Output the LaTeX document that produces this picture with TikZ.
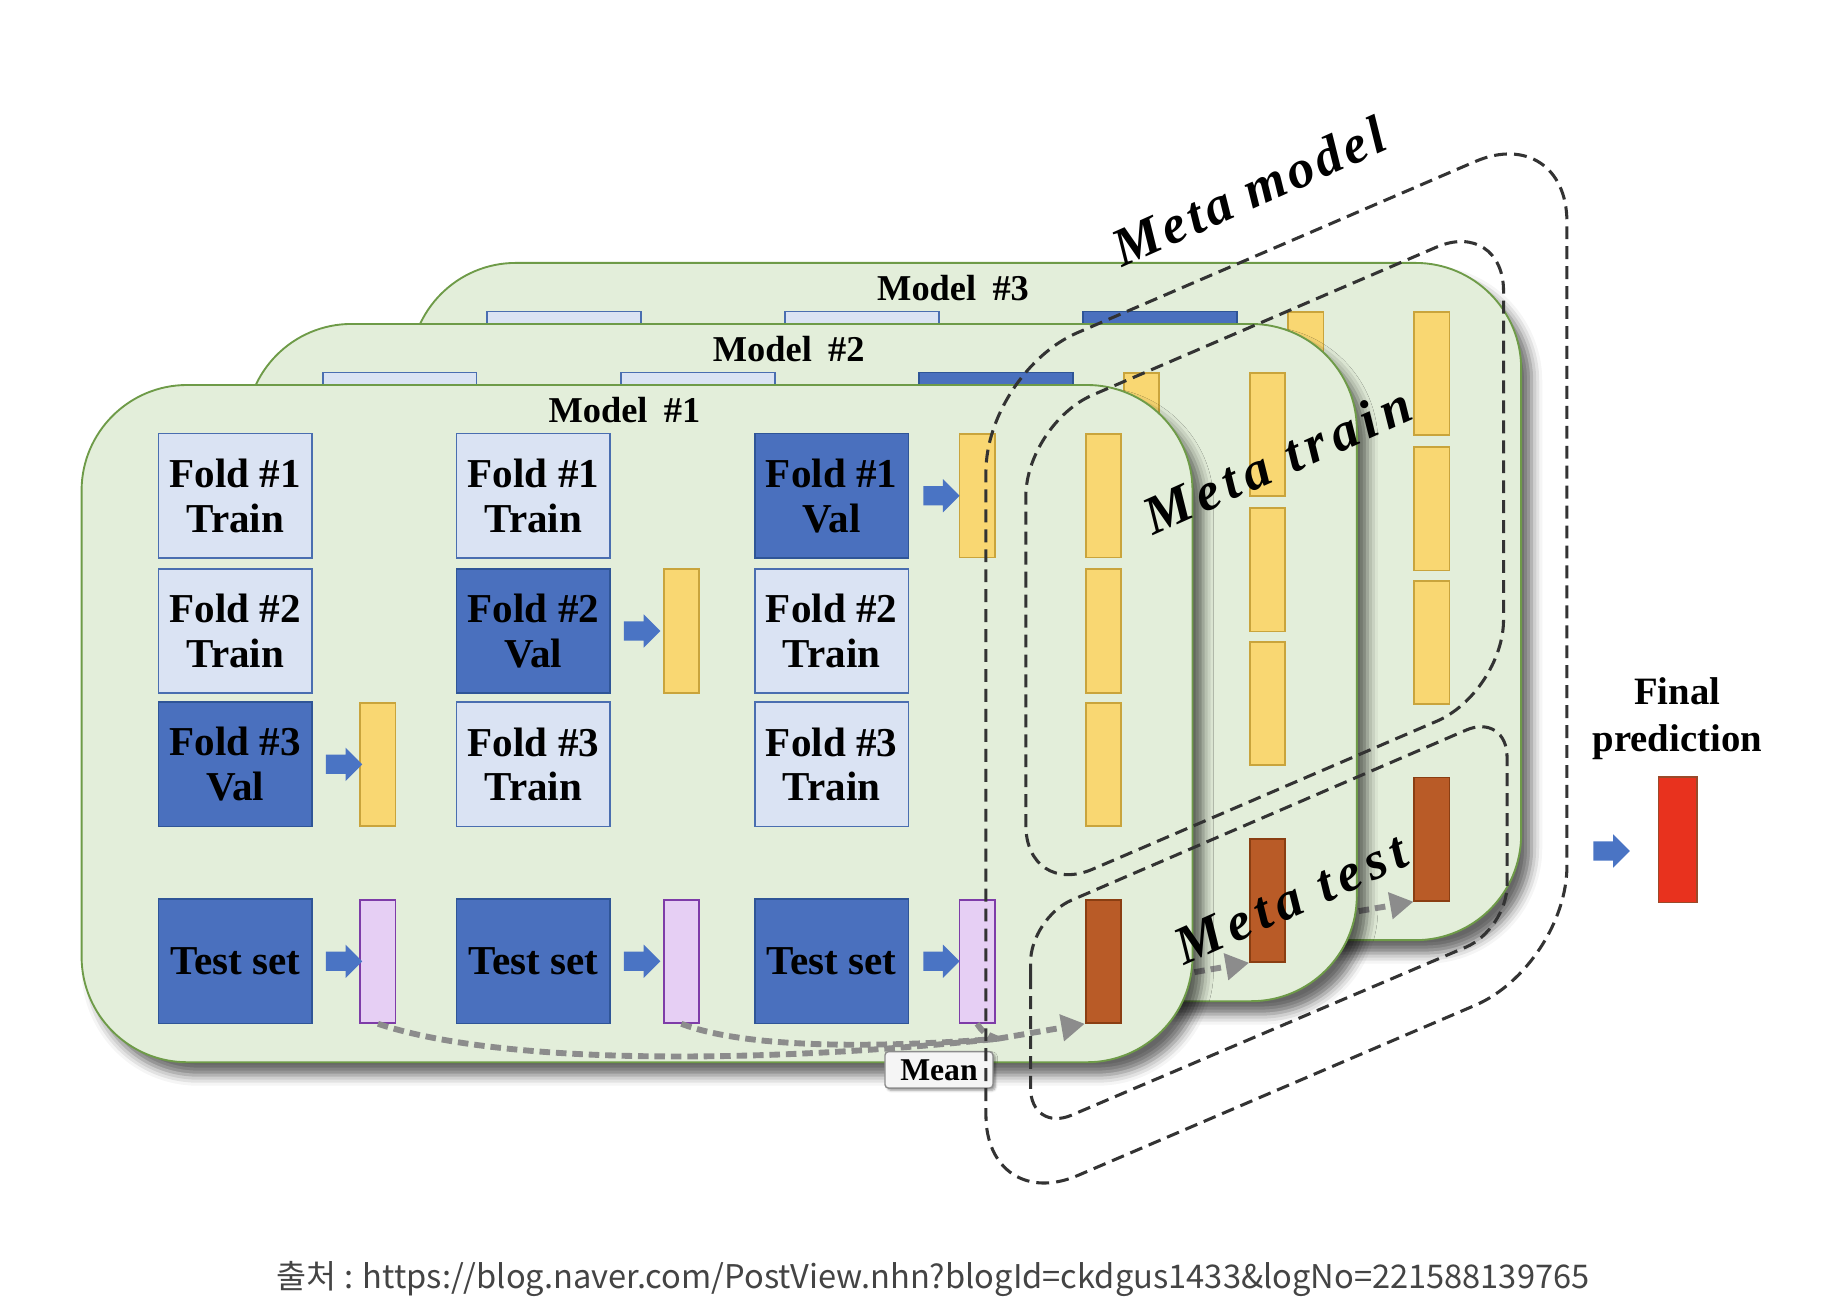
\documentclass[tikz,border=0pt]{standalone}
\usepackage{fontspec}
\setmainfont{Liberation Serif}
\newfontfamily\krfont{Noto Sans CJK KR}
\usetikzlibrary{shapes.arrows,shadows.blur,arrows.meta}
\definecolor{mfill}{HTML}{E3EEDA}
\definecolor{mdraw}{HTML}{6E9B48}
\definecolor{lfill}{HTML}{DAE3F3}
\definecolor{ldraw}{HTML}{4A6EB0}
\definecolor{dfill}{HTML}{4A70BE}
\definecolor{ddraw}{HTML}{2F5597}
\definecolor{yfill}{HTML}{F9D772}
\definecolor{ydraw}{HTML}{C9A43C}
\definecolor{pfill}{HTML}{E6CFF4}
\definecolor{pdraw}{HTML}{7E3CA8}
\definecolor{bfill}{HTML}{B95B27}
\definecolor{bdraw}{HTML}{8A3E12}
\definecolor{rfill}{HTML}{E8321E}
\definecolor{rdraw}{HTML}{9A4A2A}
\definecolor{arrblue}{HTML}{4A74C4}
\definecolor{meangray}{HTML}{8C8C8C}
\definecolor{capgray}{HTML}{444444}
\newcommand\onlyfront[1]{\ifnum\m=1 #1\fi}
\tikzset{
  modelbox/.style={fill=mfill, draw=mdraw, line width=1.6pt, rounded corners=90pt,
    blur shadow={shadow xshift=9pt, shadow yshift=-11pt, shadow blur radius=9pt, shadow opacity=60}},
  foldlight/.style={draw=ldraw, fill=lfill, line width=1.5pt, minimum width=131pt, minimum height=106pt,
    inner sep=0pt, font=\fontsize{35}{38}\selectfont\bfseries, align=center},
  folddark/.style={foldlight, fill=dfill, draw=ddraw},
  ybar/.style={draw=ydraw, fill=yfill, line width=1.5pt, minimum width=30pt, minimum height=105pt, inner sep=0pt},
  pbar/.style={ybar, draw=pdraw, fill=pfill},
  bbar/.style={ybar, draw=bdraw, fill=bfill},
  rbar/.style={ybar, draw=rdraw, fill=rfill, minimum width=33pt, minimum height=107pt},
  blockarrow/.style={single arrow, fill=arrblue, draw=none, minimum height=31pt,
    inner xsep=0pt, inner ysep=8pt, single arrow head extend=6pt, single arrow head indent=0pt},
  modeltitle/.style={font=\fontsize{31}{31}\selectfont\bfseries, inner sep=0pt},
  meanline/.style={draw=meangray, line width=5pt, dash pattern=on 9pt off 5pt},
  metadash/.style={draw=black!80, line width=2.6pt, dash pattern=on 11pt off 6pt},
  metatext/.style={font=\fontsize{46}{46}\selectfont\bfseries\itshape, rotate=24, inner sep=0pt},
}
\begin{document}
\begin{tikzpicture}[x=1pt,y=-1pt]
\useasboundingbox (0,0) rectangle (1560,1113.6);
\foreach \m in {3,2,1} {
 \begin{scope}[shift={({140*(\m-1)},{-52*(\m-1)})}]
  \draw[modelbox] (69.5,328) rectangle (1016,905);
  \node[modeltitle] (t\m) at (532,349) {Model\hspace{0.45em}\#\m};
  \foreach \c/\x in {1/200.5,2/454.5,3/708.5} {
    \foreach \r/\y in {1/422.4,2/537.6,3/651.2} {
      \pgfmathtruncatemacro\isval{(\c+\r==4)}
      \ifnum\isval=1
        \node[folddark] (f\m-\c-\r) at (\x,\y) {\onlyfront{Fold \#\r\\Val}};
      \else
        \node[foldlight] (f\m-\c-\r) at (\x,\y) {\onlyfront{Fold \#\r\\Train}};
      \fi
    }
    \node[folddark] (ts\m-\c) at (\x,819) {\onlyfront{Test set}};
  }
  \foreach \c/\bx/\ax/\y in {1/322/289/651.2, 2/580.5/543/537.6, 3/832.5/798/422.4} {
    \node[ybar] (y\m-\c) at (\bx,\y) {};
    \node[blockarrow] (ay\m-\c) at (\ax,\y) {};
    \node[pbar] (p\m-\c) at (\bx,819) {};
    \node[blockarrow] (ap\m-\c) at (\ax,819) {};
  }
  \foreach \r/\y in {1/422.4,2/537.6,3/651.2} {
    \node[ybar] (my\m-\r) at (940,\y) {};
  }
  \node[bbar] (br\m) at (940,819) {};
  \coordinate (mg\m) at (850,885);
  \draw[meanline] (p\m-1.south) .. controls (430,908) and (650,906) .. (mg\m);
  \draw[meanline] (p\m-2.south) .. controls (640,895) and (760,892) .. (mg\m);
  \draw[meanline] (p\m-3.south) .. controls (838,880) .. (mg\m);
  \draw[meanline, -{Triangle[length=20pt,width=22pt]}] (mg\m) -- (br\m.south west);
 \end{scope}
}
\node[draw=black!45, fill=black!4, line width=1.2pt, rounded corners=3pt, minimum width=92pt, minimum height=31pt,
  inner sep=0pt, font=\fontsize{27}{27}\selectfont\bfseries,
  blur shadow={shadow xshift=2pt, shadow yshift=-2pt, shadow blur radius=2pt}] (mean) at (800,911.5) {Mean};
% meta model outlines
\draw[metadash, rounded corners=85pt] (840,700) -- (840,317) -- (1335,104) -- (1335,823) -- (840,1035) -- cycle;
\draw[metadash, rounded corners=62pt] (874,560) -- (874,361) -- (1281,186) -- (1281,590) -- (874,765) -- cycle;
\draw[metadash, rounded corners=38pt] (878,870) -- (878,782) -- (1284,607) -- (1284,792) -- (878,965) -- cycle;
\node[metatext] (mm) at (1064,163) {\addfontfeature{LetterSpace=7}Meta model};
\node[metatext] (mtr) at (1088,392) {\addfontfeature{LetterSpace=12}Meta train};
\node[metatext] (mte) at (1100,766) {\addfontfeature{LetterSpace=12}Meta test};
% final prediction
\node[font=\fontsize{33}{40}\selectfont\bfseries, align=center, inner sep=0pt] (fp) at (1429,612) {Final\\prediction};
\node[rbar] (red) at (1429.5,715.5) {};
\node[blockarrow] (fa) at (1369,725) {};
% caption
\node[font=\krfont\fontsize{27.8}{28}\selectfont, text=capgray, inner sep=0pt] (cap) at (795,1090)
  {출처 : https://blog.naver.com/PostView.nhn?blogId=ckdgus1433\&logNo=221588139765};
\end{tikzpicture}
\end{document}
